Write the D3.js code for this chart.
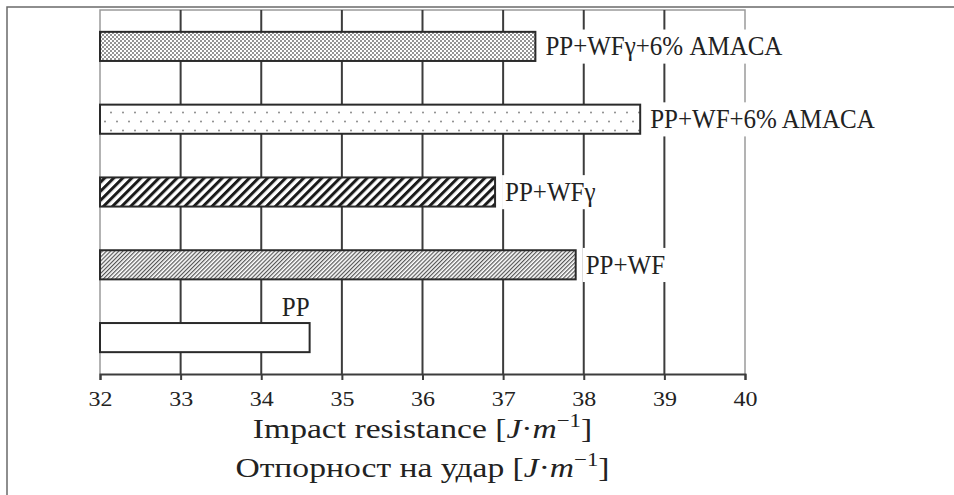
<!DOCTYPE html>
<html><head><meta charset="utf-8">
<script src="https://cdn.jsdelivr.net/npm/d3@7"></script>
<style>html,body{margin:0;padding:0;background:#fff}svg{display:block}</style>
</head><body>
<svg id="c" width="954" height="495"></svg>
<script>
const categories = ["PP+WFγ+6% AMACA", "PP+WF+6% AMACA", "PP+WFγ", "PP+WF", "PP"];
const values = [37.4, 38.7, 36.9, 37.9, 34.6];
const fills = ["dotsDense", "dotsSparse", "stripesThick", "stripesThin", "none"];
const xTicks = [32, 33, 34, 35, 36, 37, 38, 39, 40];
const titleEn = "Impact resistance";
const titleMk = "Отпорност на удар";

const svg = d3.select("#c");
const font = "Liberation Serif, Times New Roman, serif";
const L = 100, R = 745, T = 10, B = 374;

const x = d3.scaleLinear().domain([32, 40]).range([L, R]);
const y = d3.scaleBand().domain(categories).range([T, B]).paddingInner(0.6).paddingOuter(0.3);

// outer frame
svg.append("rect").attr("x", 7).attr("y", 7).attr("width", 980).attr("height", 520)
  .attr("fill", "none").attr("stroke", "#6a6a6a").attr("stroke-width", 1.5);

// patterns
const defs = svg.append("defs");
let p = defs.append("pattern").attr("id", "dotsDense").attr("patternUnits", "userSpaceOnUse").attr("width", 4).attr("height", 4);
p.append("rect").attr("width", 4).attr("height", 4).attr("fill", "#fff");
p.append("circle").attr("cx", 1).attr("cy", 1).attr("r", 0.95).attr("fill", "#666");
p.append("circle").attr("cx", 3).attr("cy", 3).attr("r", 0.95).attr("fill", "#666");

p = defs.append("pattern").attr("id", "dotsSparse").attr("patternUnits", "userSpaceOnUse").attr("width", 12).attr("height", 18);
p.append("rect").attr("width", 12).attr("height", 18).attr("fill", "#fff");
p.append("circle").attr("cx", 3).attr("cy", 4.5).attr("r", 1).attr("fill", "#8a8a8a");
p.append("circle").attr("cx", 9).attr("cy", 13.5).attr("r", 1).attr("fill", "#8a8a8a");

p = defs.append("pattern").attr("id", "stripesThick").attr("patternUnits", "userSpaceOnUse").attr("width", 6.4).attr("height", 6.4).attr("patternTransform", "rotate(45)");
p.append("rect").attr("width", 6.4).attr("height", 6.4).attr("fill", "#fff");
p.append("rect").attr("x", 0).attr("width", 3).attr("height", 6.4).attr("fill", "#1a1a1a");

p = defs.append("pattern").attr("id", "stripesThin").attr("patternUnits", "userSpaceOnUse").attr("width", 2.9).attr("height", 2.9).attr("patternTransform", "rotate(45)");
p.append("rect").attr("width", 2.9).attr("height", 2.9).attr("fill", "#fff");
p.append("rect").attr("x", 0).attr("width", 1.2).attr("height", 2.9).attr("fill", "#555");

// plot border (left, top, right)
svg.append("path").attr("d", `M${L},${B}V${T}H${R}V${B}`).attr("fill", "none")
  .attr("stroke", "#9a9a9a").attr("stroke-width", 1.5);

// gridlines
svg.append("g").selectAll("line").data(xTicks.filter(t => t > 32 && t < 40)).join("line")
  .attr("x1", d => x(d)).attr("x2", d => x(d)).attr("y1", T).attr("y2", B)
  .attr("stroke", "#3c3c3c").attr("stroke-width", 2);

// x axis
const ax = svg.append("g").attr("transform", `translate(0,${B})`)
  .call(d3.axisBottom(x).tickValues(xTicks).tickFormat(d3.format("d")).tickSize(6).tickPadding(10));
ax.attr("font-family", font);
ax.select(".domain").attr("stroke", "#3c3c3c").attr("stroke-width", 2);
ax.selectAll(".tick line").attr("stroke", "#3c3c3c").attr("stroke-width", 2);
ax.selectAll(".tick text").attr("font-family", font).attr("font-size", 22).attr("fill", "#222")
  .attr("transform", "scale(1.09,1)");

const data = categories.map((c, i) => ({ name: c, value: values[i], fill: fills[i] }));

// label layers: white boxes go under the bars, texts on top
const boxLayer = svg.append("g");
const barLayer = svg.append("g");
const textLayer = svg.append("g");

// bars
barLayer.selectAll("rect").data(data).join("rect")
  .attr("x", x(32)).attr("y", d => y(d.name))
  .attr("width", d => x(d.value) - x(32)).attr("height", y.bandwidth())
  .attr("fill", d => d.fill === "none" ? "#fff" : `url(#${d.fill})`)
  .attr("stroke", "#2a2a2a").attr("stroke-width", 2);

// labels
data.forEach(d => {
  const above = d.name === "PP";
  const cy = y(d.name) + y.bandwidth() / 2;
  const t = textLayer.append("text").attr("font-family", font).attr("font-size", 25).attr("fill", "#222")
    .text(d.name);
  if (above) {
    t.attr("text-anchor", "end").attr("transform", `translate(${x(d.value)},${y(d.name) - 7}) scale(1,1.08)`);
  } else {
    t.attr("text-anchor", "start").attr("transform", `translate(${x(d.value) + 10},${cy + 9}) scale(1,1.08)`);
  }
  const bb = t.node().getBBox();
  const m = t.node().getCTM();
  const x0 = m.a * bb.x + m.e, y0 = m.d * bb.y + m.f;
  boxLayer.append("rect").attr("x", x0 - 3).attr("y", y0 - 2)
    .attr("width", bb.width * m.a + 6).attr("height", bb.height * m.d + 4).attr("fill", "#fff");
});

// axis titles
function title(txt, yy) {
  const t = svg.append("text").attr("text-anchor", "middle")
    .attr("transform", `translate(${(L + R) / 2},${yy}) scale(1.2,1)`)
    .attr("font-family", font).attr("font-size", 28).attr("fill", "#222");
  t.append("tspan").text(txt + " [");
  t.append("tspan").attr("font-style", "italic").text("J");
  t.append("tspan").text("·");
  t.append("tspan").attr("font-style", "italic").text("m");
  t.append("tspan").attr("font-size", 19).attr("dy", -11).text("−1");
  t.append("tspan").attr("dy", 11).text("]");
}
title(titleEn, 438);
title(titleMk, 477);
</script>
</body></html>
